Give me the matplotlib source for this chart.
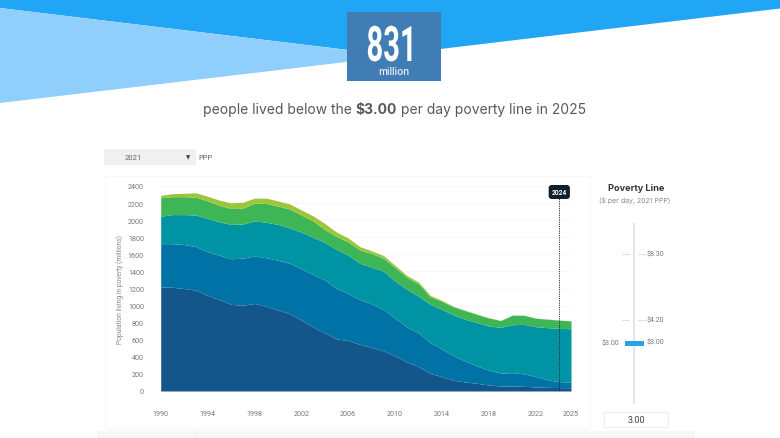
# -*- coding: utf-8 -*-
import numpy as np
import matplotlib
matplotlib.use("Agg")
import matplotlib.pyplot as plt
from matplotlib.patches import Polygon, Rectangle
from matplotlib.patheffects import AbstractPathEffect
from matplotlib.transforms import Affine2D

W, H = 780, 439

years = list(range(1990, 2026))
# cumulative tops of the stacked bands, in millions
navy_top = [1217, 1215, 1200, 1180, 1120, 1070, 1014, 1005, 1025, 990, 950, 905, 830, 750, 680, 610,
            590, 546, 510, 470, 410, 340, 285, 205, 168, 125, 105, 90, 70, 58, 58, 55, 47, 43, 40, 38]
blue_top = [1725, 1725, 1715, 1690, 1630, 1590, 1548, 1555, 1580, 1560, 1530, 1495, 1430, 1365, 1300, 1200,
            1140, 1070, 1020, 955, 850, 750, 680, 565, 490, 410, 350, 290, 245, 210, 215, 200, 170, 130, 110, 105]
teal_top = [2047, 2065, 2065, 2060, 2020, 1980, 1950, 1955, 1990, 1975, 1950, 1910, 1860, 1800, 1740, 1657,
            1590, 1494, 1450, 1404, 1287, 1190, 1110, 1014, 955, 890, 838, 800, 760, 745, 776, 780, 753, 741, 733, 729]
green_top = [2262, 2275, 2275, 2270, 2225, 2175, 2137, 2140, 2200, 2195, 2165, 2130, 2060, 1990, 1890, 1810,
             1745, 1650, 1610, 1555, 1445, 1330, 1255, 1105, 1050, 985, 940, 895, 855, 825, 887, 886, 852, 841, 829, 821]
total_top = [2290, 2310, 2315, 2320, 2280, 2235, 2203, 2210, 2258, 2258, 2225, 2190, 2120, 2050, 1960, 1860,
             1790, 1690, 1640, 1587, 1470, 1353, 1275, 1120, 1060, 990, 945, 900, 858, 827, 889, 888, 854, 843, 831, 823]
band_colors = ["#15568a", "#0072a5", "#0093a3", "#3fb655", "#9cc53c"]

y_ticks = list(range(0, 2401, 200))
x_ticks = [1990, 1994, 1998, 2002, 2006, 2010, 2014, 2018, 2022, 2025]
poverty_lines = [(8.30, 255), (4.20, 321)]


# the big number is a tall narrow face, none installed, so stretch it when drawn
class Stretch(AbstractPathEffect):
    def __init__(self, sy, cy):
        super().__init__()
        self.sy, self.cy = sy, cy

    def draw_path(self, renderer, gc, tpath, affine, rgbFace=None):
        t = affine + Affine2D().translate(0, -self.cy).scale(1, self.sy).translate(0, self.cy)
        renderer.draw_path(gc, tpath, t, rgbFace)


fig = plt.figure(figsize=(W / 100, H / 100), dpi=100, facecolor="white")

# page layer in pixel coordinates
bg = fig.add_axes([0, 0, 1, 1])
bg.set_xlim(0, W)
bg.set_ylim(H, 0)
bg.axis("off")

bg.add_patch(Polygon([(0, 0), (780, 0), (780, 9.5), (390, 56), (0, 9)], color="#21a5f5", lw=0))
bg.add_patch(Polygon([(0, 9), (397, 57), (0, 104)], color="#90cefb", lw=0))
bg.add_patch(Rectangle((347, 13), 94, 69, color="#417db5", lw=0))

bg.text(391.5, 62, "831", color="white", fontsize=21, fontweight="bold", ha="center", va="baseline", family="Roboto",
        path_effects=[Stretch(1.68, H - 62)])
bg.text(394, 72, "million", color="#eef4fa", fontsize=7.2, fontweight="medium", ha="center", va="center", family="Inter")

# headline, three pieces chained one after the other
x = 203
renderer = fig.canvas.get_renderer()
for txt, weight in [("people lived below the ", "normal"), ("$3.00", "bold"), (" per day poverty line in 2025", "normal")]:
    t = bg.text(x, 110, txt.replace("$", r"\$"), color="#56595c", fontsize=10.0, fontweight=weight,
                ha="left", va="center", family="Inter")
    x = bg.transData.inverted().transform((t.get_window_extent(renderer).x1, 0))[0]

# dropdown
bg.add_patch(Rectangle((104, 150), 92, 16, color="#f0f0f0", lw=0))
bg.text(133, 158, "2021", color="#666666", fontsize=5.5, ha="center", va="center", family="Roboto")
bg.text(188, 158, "\u25bc", color="#444444", fontsize=4, ha="center", va="center")
bg.text(198, 158, "PPP", color="#666666", fontsize=5.5, ha="left", va="center", family="Roboto")

# chart panel
bg.add_patch(Rectangle((105, 177), 485, 253, fc="white", ec="#f7f7f7", lw=0.8))
bg.add_patch(Rectangle((97, 432), 598, 7, color="#f7f7f7", lw=0))
bg.plot([196, 196], [432, 439], color="#ececec", lw=0.6)

# slider
bg.text(636, 189, "Poverty Line", color="#33383d", fontsize=6.6, fontweight="bold", ha="center", va="center", family="Inter")
bg.text(635, 201, "($ per day, 2021 PPP)".replace("$", r"\$"), color="#8a8a8a", fontsize=5, ha="center", va="center", family="Inter")
bg.plot([633.5, 633.5], [224, 405], color="#e6e6e6", lw=1.5, solid_capstyle="butt")
for val, ypix in poverty_lines:
    bg.plot([622, 629], [ypix, ypix], color="#dddddd", lw=0.7)
    bg.plot([638, 645], [ypix, ypix], color="#dddddd", lw=0.7)
    bg.text(647, ypix, r"\$%.2f" % val, color="#777777", fontsize=5, ha="left", va="center", family="Roboto")
bg.add_patch(Rectangle((624.5, 342), 19, 4.5, color="#29a3e3", lw=0, zorder=5))
bg.text(602, 344, r"\$3.00", color="#777777", fontsize=5, ha="left", va="center", family="Roboto")
bg.text(647, 343, r"\$3.00", color="#777777", fontsize=5, ha="left", va="center", family="Roboto")
bg.add_patch(Rectangle((604, 413), 64, 15, fc="white", ec="#eeeeee", lw=0.8))
bg.text(636, 420.5, "3.00", color="#444444", fontsize=6.5, ha="center", va="center", family="Roboto")

# area chart, positioned so the data scale lands on the reference pixels
left, right, bottom, top = 160.7, 571, 392, 187
ax = fig.add_axes([left / W, 1 - bottom / H, (right - left) / W, (bottom - top) / H])
ax.patch.set_alpha(0)
ax.set_xlim(1990, 2025)
ax.set_ylim(0, 2400)
for s in ax.spines.values():
    s.set_visible(False)

tops = [navy_top, blue_top, teal_top, green_top, total_top]
lower = np.zeros(len(years))
for vals, c in zip(tops, band_colors):
    ax.fill_between(years, lower, vals, color=c, lw=0, zorder=3)
    lower = np.array(vals)

ax.set_yticks(y_ticks)
ax.set_xticks(x_ticks)
ax.tick_params(length=0)
ax.tick_params(axis="x", pad=13.5, labelsize=5.2, labelcolor="#777777")
ax.tick_params(axis="y", pad=12, labelsize=5.2, labelcolor="#777777")
for lab in ax.get_xticklabels() + ax.get_yticklabels():
    lab.set_family("Roboto")
ax.grid(axis="y", color="#f6f6f6", lw=0.6, zorder=0)
ax.set_ylabel("Population living in poverty (millions)", fontsize=4.8, color="#888888", family="Roboto")
ax.yaxis.set_label_coords(-0.09, 0.5)

# year marker
ax.plot([2024, 2024], [0, 2270], color="#222222", lw=0.6, ls=(0, (1.5, 1.2)), zorder=4)
ax.text(2024, 2330, "2024", color="white", fontsize=4.8, fontweight="bold", ha="center", va="center", family="Roboto",
        bbox=dict(boxstyle="round,pad=0.45", fc="#10202c", ec="none"), zorder=5)

fig.savefig("out.png", dpi=100)
